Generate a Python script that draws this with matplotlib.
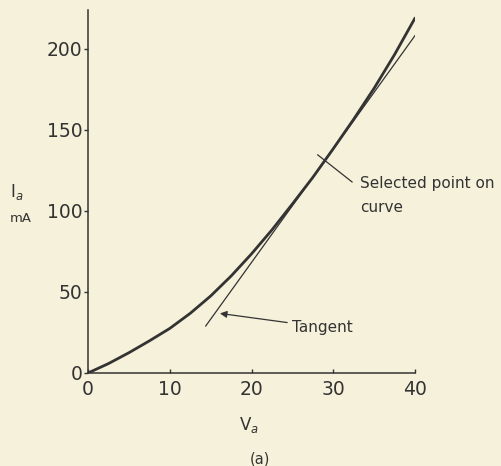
import matplotlib.pyplot as plt

# anode characteristic
va = [0, 2.5, 5, 7.5, 10, 12.5, 15, 17.5, 20, 22.5, 25, 27.5, 30, 32.5, 35, 37.5, 40]
ia = [0, 5.8, 12.5, 19.8, 27.5, 36.8, 47.5, 59.8, 73.5, 88.3, 104.3, 120.7, 138.4, 156.6, 175.7, 196.5, 219]

# tangent at the selected point
tan_v = [14.4, 40.4]
tan_i = [29, 211]

xticks = [0, 10, 20, 30, 40]
yticks = [0, 50, 100, 150, 200]

bg = '#f5f1da'
ink = '#333333'

fig = plt.figure(figsize=(5.01, 4.66), dpi=100, facecolor=bg)
ax = fig.add_axes([88/501, 93/466, 327/501, 363/466], facecolor=bg)

ax.plot(va, ia, color=ink, lw=2.0, solid_capstyle='round', solid_joinstyle='round')
ax.plot(tan_v, tan_i, color=ink, lw=0.9)

ax.set_xlim(0, 40)
ax.set_ylim(0, 224)
ax.set_xticks(xticks)
ax.set_yticks(yticks)
ax.spines['top'].set_visible(False)
ax.spines['right'].set_visible(False)
for s in ['left', 'bottom']:
    ax.spines[s].set_color(ink)
    ax.spines[s].set_linewidth(1.1)
ax.tick_params(axis='x', direction='in', length=3, width=1, colors=ink,
               labelsize=13.5, pad=5)
ax.tick_params(axis='y', direction='out', length=3, width=1, colors=ink,
               labelsize=13.5, pad=1)

# labels
fig.text(10/501, 1 - 192/466, 'I$_a$', fontsize=12, color=ink, va='center')
fig.text(10/501, 1 - 218/466, 'mA', fontsize=9.5, color=ink, va='center')
fig.text(249/501, 1 - 425/466, 'V$_a$', fontsize=12, color=ink, ha='center', va='center')
fig.text(260/501, 1 - 459/466, '(a)', fontsize=10.5, color=ink, ha='center', va='center')

# selected point marker and note
ax.plot([28.1, 32.3], [134.6, 117.9], color=ink, lw=0.9)
ax.text(33.3, 114.2, 'Selected point on', fontsize=11, color=ink, va='baseline')
ax.text(33.3, 99.4, 'curve', fontsize=11, color=ink, va='baseline')

# tangent note
ax.annotate('', xy=(15.8, 37), xytext=(24.7, 30.9),
            arrowprops=dict(arrowstyle='-|>', color=ink, lw=0.9,
                            mutation_scale=10))
ax.text(24.95, 25.3, 'Tangent', fontsize=11, color=ink, va='baseline')

fig.savefig('out.png', dpi=100, facecolor=bg)
